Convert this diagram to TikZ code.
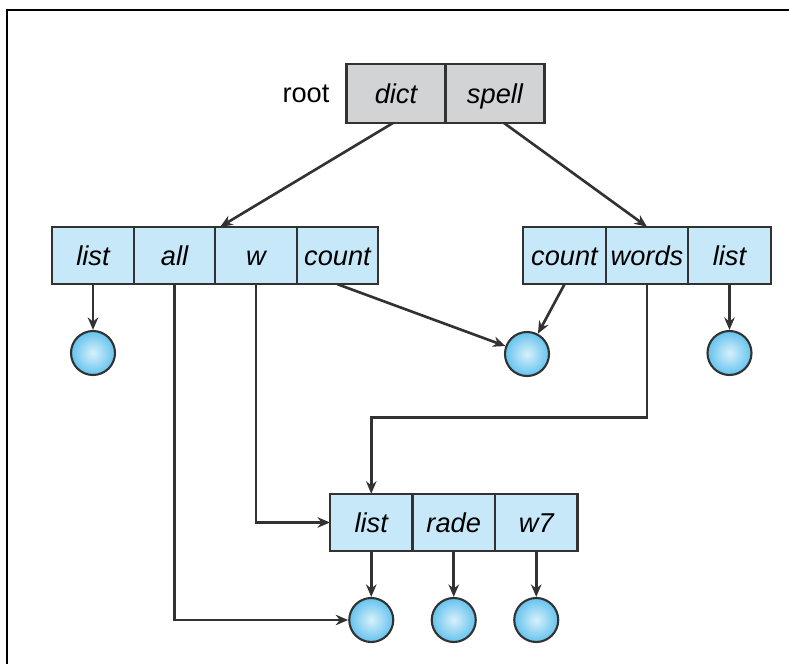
\documentclass[tikz,border=0pt]{standalone}
\usepackage{fontspec}
\setmainfont{Liberation Sans}
\usetikzlibrary{arrows.meta}
\definecolor{cellblue}{RGB}{198,232,248}
\definecolor{rootgray}{RGB}{210,211,213}
\definecolor{edgegray}{RGB}{50,50,50}
\definecolor{ballblue}{RGB}{100,195,238}
\begin{document}
\begin{tikzpicture}[every node/.style={font=\fontsize{15.5}{18}\selectfont},
  cell/.style={draw=edgegray, line width=1.3pt, fill=cellblue, outer sep=0pt, inner sep=1pt,
    minimum width=1.65cm, minimum height=1.15cm, text height=2.4ex, text depth=0.3ex,
    font=\fontsize{15.5}{18}\selectfont\itshape},
  rcell/.style={cell, fill=rootgray, minimum width=1.98cm, minimum height=1.18cm},
  ball/.style={circle, draw=edgegray, line width=1.2pt, minimum size=0.88cm, inner sep=0pt,
    inner color=ballblue!25, outer color=ballblue},
  ptr/.style={draw=edgegray, line width=1.5pt, -{Stealth[length=2.5mm, width=2.1mm]}}]
  \useasboundingbox (0,0) rectangle (15.78,-13.28);
  \draw[line width=1.7pt] (0.14,-13.28) -- (0.14,-0.2) -- (15.78,-0.2);
  % root directory
  \node (root) at (6.12,-1.87) {root};
  \node[rcell] (rdict) at (7.92,-1.87) {dict};
  \node[rcell] (rspell) at (9.90,-1.87) {spell};
  % dict directory
  \node[cell, minimum width=1.63cm] (dlist) at (1.86,-5.11) {list};
  \node[cell, minimum width=1.63cm] (dall) at (3.49,-5.11) {all};
  \node[cell, minimum width=1.63cm] (dw) at (5.12,-5.11) {w};
  \node[cell, minimum width=1.63cm] (dcount) at (6.75,-5.11) {count};
  % spell directory
  \node[cell] (scount) at (11.29,-5.11) {count};
  \node[cell] (swords) at (12.94,-5.11) {words};
  \node[cell] (slist) at (14.59,-5.11) {list};
  % shared directory
  \node[cell] (wlist) at (7.425,-10.45) {list};
  \node[cell] (wrade) at (9.075,-10.45) {rade};
  \node[cell] (ww7) at (10.725,-10.45) {w7};
  % files
  \node[ball] (fdlist) at (1.86,-7.06) {};
  \node[ball] (fcount) at (10.54,-7.08) {};
  \node[ball] (fslist) at (14.59,-7.06) {};
  \node[ball] (fwlist) at (7.425,-12.4) {};
  \node[ball] (fwrade) at (9.075,-12.4) {};
  \node[ball] (fww7) at (10.725,-12.4) {};
  % pointers
  \draw[ptr] ([xshift=-0.06cm]rdict.south) -- ([xshift=0.1cm]dw.north west);
  \draw[ptr] ([xshift=0.18cm]rspell.south) -- (swords.north);
  \draw[ptr] (dlist) -- (fdlist);
  \draw[ptr] (dall.south) |- (fwlist.west);
  \draw[ptr] (dw.south) |- (wlist.west);
  \draw[ptr] (dcount.south) -- (fcount);
  \draw[ptr] (scount.south) -- (fcount);
  \draw[ptr] (swords.south) -- ++(0,-2.67) -| (wlist.north);
  \draw[ptr] (slist) -- (fslist);
  \draw[ptr] (wlist) -- (fwlist);
  \draw[ptr] (wrade) -- (fwrade);
  \draw[ptr] (ww7) -- (fww7);
\end{tikzpicture}
\end{document}
